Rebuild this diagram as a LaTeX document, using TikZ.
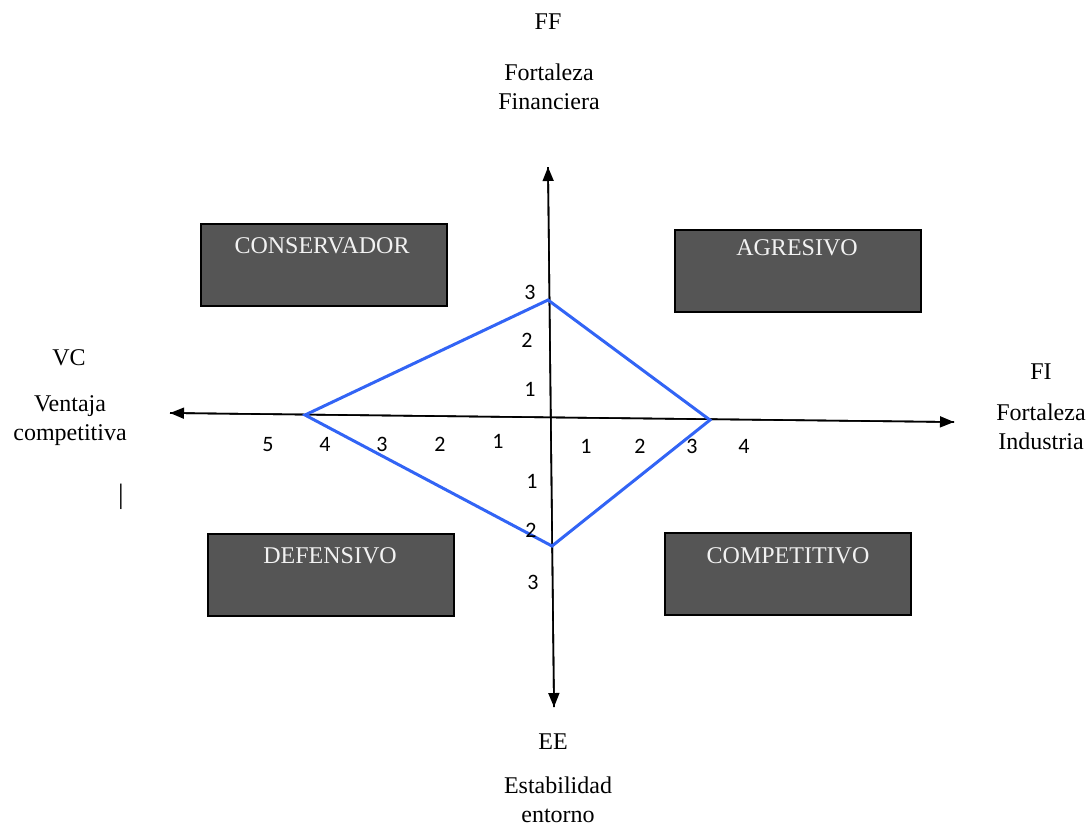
\documentclass[tikz,border=0pt]{standalone}
\usepackage{fontspec}
\setmainfont{Liberation Serif}
\newfontfamily\numfont{Carlito}
\usetikzlibrary{arrows.meta}
\definecolor{boxgray}{HTML}{555555}
\definecolor{boxtext}{HTML}{F2F2F2}
\definecolor{polyblue}{RGB}{50,100,245}
\tikzset{
  axis/.style={line width=0.8pt, -{Triangle[length=7pt,width=5.5pt]}},
  quadbox/.style={draw=black, line width=0.8pt, fill=boxgray, minimum width=123pt, minimum height=41pt, inner sep=0pt},
  quadtext/.style={text=boxtext, font=\fontsize{12}{14}\selectfont, inner sep=0pt},
  axtitle/.style={align=center, inner sep=0pt, font=\fontsize{12}{14.5}\selectfont},
  tick/.style={inner sep=0pt, font=\numfont\fontsize{11}{13}\selectfont},
  poly/.style={draw=polyblue, line width=1.5pt, line join=miter}
}
\begin{document}
\begin{tikzpicture}[x=0.5pt, y=-0.5pt]
\useasboundingbox (0,0) rectangle (1091,827);

% axis end points
\coordinate (ytop) at (548,167);
\coordinate (ybot) at (554,707);
\coordinate (xleft) at (170,413);
\coordinate (xright) at (954,422);

% quadrant boxes
\node[quadbox] (cons) at (324,265) {};
\node[quadtext] (conslbl) at (322,246) {CONSERVADOR};
\node[quadbox] (agre) at (798,271) {};
\node[quadtext] (agrelbl) at (797,248) {AGRESIVO};
\node[quadbox] (defe) at (331,575) {};
\node[quadtext] (defelbl) at (330,556) {DEFENSIVO};
\node[quadbox] (comp) at (788,574) {};
\node[quadtext] (complbl) at (788,556) {COMPETITIVO};

% axes
\draw[axis] (ybot) -- (ytop);
\draw[axis] (ytop) -- (ybot);
\draw[axis] (xright) -- (xleft);
\draw[axis] (xleft) -- (xright);

% strategic position polygon
\coordinate (pleft) at (305,415);
\coordinate (ptop) at (548,300);
\coordinate (pright) at (710,420);
\coordinate (pbot) at (552,546);
\draw[poly] (pleft) -- (ptop) -- (pright) -- (pbot) -- cycle;

% axis titles
\node[axtitle] (ff) at (548,22) {FF};
\node[axtitle] (fftxt) at (549,87) {Fortaleza\\Financiera};
\node[axtitle] (vc) at (69,358) {VC};
\node[axtitle] (vctxt) at (70,421) {Ventaja\\competitiva};
\node[axtitle] (fi) at (1041,372) {FI};
\node[axtitle] (fitxt) at (1041,427) {Fortaleza\\Industria};
\node[axtitle] (ee) at (553,742) {EE};
\node[axtitle] (eetxt) at (558,800) {Estabilidad\\entorno};
\node[axtitle, font=\fontsize{14}{16}\selectfont] (bar) at (121,497) {|};

% scale marks, horizontal
\node[tick] (l5) at (268,444) {5};
\node[tick] (l4) at (325,444) {4};
\node[tick] (l3) at (382,444) {3};
\node[tick] (l2) at (440,444) {2};
\node[tick] (l1) at (498,441) {1};
\node[tick] (r1) at (586,446) {1};
\node[tick] (r2) at (640,446) {2};
\node[tick] (r3) at (692,446) {3};
\node[tick] (r4) at (744,446) {4};
% scale marks, vertical
\node[tick] (u3) at (530,292) {3};
\node[tick] (u2) at (527,340) {2};
\node[tick] (u1) at (530,389) {1};
\node[tick] (d1) at (532,481) {1};
\node[tick] (d2) at (531,530) {2};
\node[tick] (d3) at (533,582) {3};
\end{tikzpicture}
\end{document}
